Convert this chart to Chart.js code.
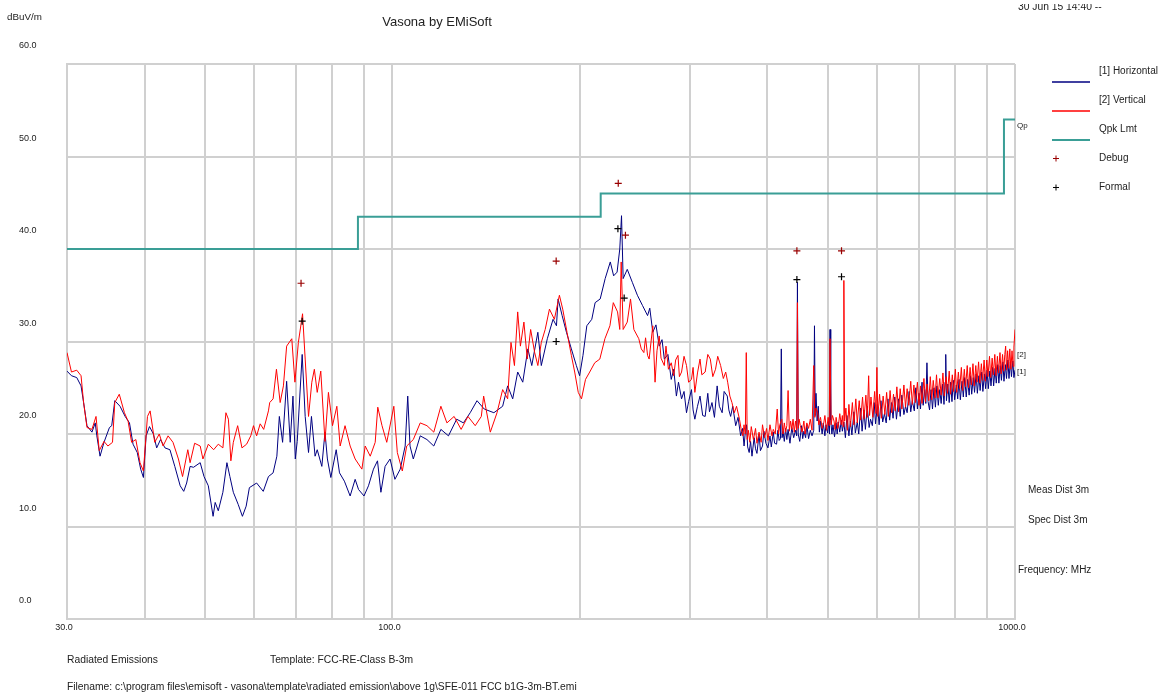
<!DOCTYPE html>
<html>
<head>
<meta charset="utf-8">
<title>Vasona by EMiSoft</title>
<script src="https://cdn.jsdelivr.net/npm/chart.js@4.4.0/dist/chart.umd.min.js"></script>
<style>
  body { margin: 0; background: #fff; }
  #wrap { width: 1162px; height: 695px; }
</style>
</head>
<body>
<div id="wrap"><canvas id="emi" width="1162" height="695"></canvas></div>
<script>
// [1] Horizontal trace (MHz / dBuV/m)
const hFreq = [30.0,30.5,31.1,31.6,31.9,32.3,32.9,33.3,33.5,33.9,34.4,35.1,35.4,35.8,36.5,37.2,37.8,38.3,38.9,39.4,39.8,40.2,40.7,41.3,41.8,42.4,43.1,43.9,44.7,45.6,46.2,46.7,47.3,47.9,49.1,49.8,50.6,51.5,51.9,52.5,53.4,54.2,54.8,55.5,56.5,57.4,58.2,58.9,60.5,62.0,63.2,64.3,65.2,65.8,66.6,67.6,68.5,69.2,69.8,70.3,71.6,72.4,73.3,74.1,75.1,75.7,77.0,77.9,78.6,79.6,81.2,82.2,83.7,85.5,87.1,88.2,90.0,91.5,93.2,94.6,95.8,97.3,99.1,100.9,102.9,104.8,105.8,106.7,108.0,110.8,113.6,116.5,119.6,123.0,126.8,130.0,133.3,136.7,140.4,145.5,150.3,153.1,156.0,158.9,161.9,165.0,167.4,171.2,173.4,177.3,181.1,183.4,184.5,187.3,190.3,193.8,197.4,199.8,202.3,205.2,209.0,211.6,215.6,219.6,223.8,226.6,229.5,231.8,233.3,234.7,238.3,242.8,247.4,
  252.1,256.9,259,261.9,265,268.2,271,273.3,277,280.4,283,285.8,288,291.3,294,296.7,299,302.2,304,306.0,309,311.9,315,317.9,321,323,326.0,329,332.3,335,338.5,341,345.0,347,349.3,352,355.9,359,362.5,365,367.1,369,370.4,372,374.1,376,378,381,383,385,388,390,393,395,398,401,404,406,409,411,414,416,418,420,421.3,422.5,424,426,428,430,432,435,438,441,444,446,447.2,448.5,451,454,456,458,461,463,466,469,472,475,476.3,477.6,479,481,483,485,487,490,492,495,497,500,502,503.5,504.5,505.8,508,510,513,516,518,520,523,526,528,531,534,537,541,544,547,551,554,558,561,565,568,572,575,579,583,586,590,594,597,601,605,609,613,617,621,625,629,633,637,641,645,650,654,658,663,667,671,676,680,684,689,693,697,
  701,705,709,712,716,719,722,725,729,733,737,741,745,749,753,757,761,765,769,772,774,776,780,784,788,792,796,800,805,809,813,817,822,826,830,835,839,844,848,852,857,861,866,870,875,879,884,888,893,897,902,906,911,915,920,924,929,933,938,942,947,951,956,960,965,969,974,978,983,987,992,996,1000];
const hLevel = [26.8,26.3,26.1,25.2,23.4,20.9,20.2,21.2,19.8,17.6,19.1,20.7,20.9,23.6,23.0,21.9,21.2,18.9,18.0,16.2,15.3,19.8,20.8,20.0,18.5,19.4,18.5,18.3,16.5,14.4,13.8,14.7,16.5,16.4,16.9,15.4,14.4,11.1,12.6,11.7,13.7,16.9,15.4,13.7,12.4,11.1,12.2,14.2,14.7,13.8,15.4,15.8,17.6,21.9,19.1,25.7,19.1,24.1,17.3,19.2,28.6,21.9,18.0,21.9,17.6,18.3,16.5,20.2,17.3,15.3,18.3,15.8,14.9,13.3,15.1,14.0,13.3,14.4,16.2,17.1,13.7,16.5,17.3,15.1,16.2,18.7,24.1,18.7,17.3,19.8,19.4,18.7,20.5,19.8,21.6,21.2,22.3,23.6,22.7,22.3,23.0,25.2,23.8,26.7,25.6,29.2,27.4,31.0,27.4,30.3,32.4,31.7,34.6,32.8,31.0,29.2,27.4,26.3,28.5,31.7,32.4,34.2,34.6,36.8,38.6,37.1,37.5,40.0,43.6,36.8,37.8,36.4,35.0,
  33.9,32.8,33.6,31.0,31.8,29.5,30.2,28.1,28.6,25.9,27.0,24.1,25.6,23.8,24.6,22.3,23.5,24.8,22.6,21.6,23.0,24.1,22.0,21.9,24.4,22.4,23.4,21.8,25.2,23.0,22.3,24.6,24.1,22.6,21.9,23.0,20.9,21.8,19.8,20.6,18.7,20.4,21.0,18.6,18.0,19.2,17.6,19.6,18.4,17.9,20.0,18.2,18.7,20.3,19.0,18.5,19.8,18.6,20.2,19.0,18.9,20.4,19.3,19.5,29.2,19.6,20.3,19.2,20.6,19.4,20.5,19.0,20.7,19.6,20.4,19.8,36.4,20.0,19.2,20.9,19.5,20.3,19.6,21.0,19.5,20.4,19.8,20.4,31.7,22.0,24.4,21.4,23.0,20.2,21.4,20.0,21.2,19.8,21.0,20.1,21.4,20.0,31.3,21.5,20.0,21.0,19.7,21.2,20.0,21.3,20.2,21.5,20.3,21.3,19.6,22.0,19.8,21.4,19.9,22.4,20.1,21.3,20.0,22.8,20.3,22.6,20.5,23.0,20.7,21.6,20.9,23.4,21.1,23.2,21.0,23.6,21.3,22.2,21.2,23.8,21.5,23.4,21.7,24.0,21.6,23.8,21.9,24.2,22.1,23.0,22.3,24.6,22.4,23.6,22.5,25.0,22.7,
  24.4,22.7,25.6,23.1,24.8,23.3,27.7,23.5,22.6,24.8,22.7,25.0,22.9,25.2,23.1,24.8,23.3,25.4,23.2,25.6,28.6,23.6,25.4,23.4,25.6,23.5,25.8,23.7,25.3,23.8,25.9,23.7,25.7,24.0,26.1,24.0,25.9,24.2,26.3,24.3,26.1,24.5,26.5,24.4,26.3,24.7,26.7,24.6,26.5,24.9,26.9,24.9,26.8,25.2,27.2,25.2,27.1,25.5,27.5,25.5,27.4,25.8,27.8,25.7,27.5,26.0,28.0,26.0,27.8,26.2,27.9,26.1,26.9];

// [2] Vertical trace (MHz / dBuV/m)
const vFreq = [30.0,30.5,31.1,31.6,31.9,32.3,32.9,33.4,33.8,34.4,34.9,35.5,35.8,36.4,37.1,37.6,38.1,38.7,39.3,39.8,40.4,40.8,41.5,42.2,42.8,43.6,44.4,45.3,46.0,46.9,47.3,48.1,49.1,49.6,50.6,51.6,52.5,53.4,54.0,54.5,55.0,55.5,56.4,57.3,58.3,59.2,59.8,60.5,61.3,62.1,63.2,63.5,64.3,65.1,66.0,66.8,67.6,68.9,69.7,70.6,71.7,72.4,73.3,74.2,74.9,75.7,76.7,77.9,78.9,80.1,81.4,82.4,83.9,85.5,87.1,89.3,90.4,92.1,93.8,94.7,96.2,97.9,100.5,101.8,103.7,105.4,108.0,110.8,113.6,116.5,119.6,122.3,125.6,128.9,132.2,135.8,138.9,140.1,143.6,147.2,150.3,153.1,155.0,157.0,158.9,160.5,162.6,164.6,166.7,169.2,171.2,173.4,175.9,178.7,182.0,185.4,187.7,190.7,193.8,196.2,198.8,201.2,204.2,207.4,211.3,215.3,219.4,223.5,226.3,229.9,231.8,233.0,234.7,238.3,241.2,244.2,
  248.7,251,253.4,255,256.9,258.4,261.9,264.1,266,268.2,270,273.3,275.0,277.5,280.4,283.0,285,287.5,289,291.3,294,296.7,299,302.2,304,306.0,309,311.9,314,317.9,321,324.0,327,330.3,333,336.6,340,343.0,345.5,348.3,351,354.1,357,360.9,363,365.5,367,368.8,370.1,371.4,373,375,377,380,383,385,388,391,393,396,399,401,404,407,409,412,415,417,419,422,424,426,428,430,432,434,436,438,440,442,444,446,447.2,448.5,450,452,455,458,460,463,466,469,472,475,477,479,482,484,487,490,493,495,498,501,503,504.5,506.5,509,512,514,516,519,521,523,526,528,529.5,531,532.5,535,538,541,544,548,551,555,558,562,565,569,572,576,579,582,584,587,591,595,598,600,602,606,610,614,618,622,626,630,634,638,642,646,650,654,658,663,667,671,675,680,684,688,692,
  697,701,705,709,714,718,722,727,731,735,739,744,748,752,757,761,766,770,775,779,784,788,793,797,802,806,811,815,820,824,829,833,838,842,847,851,856,860,865,869,874,878,883,887,892,896,901,905,910,914,919,923,928,932,937,941,946,950,955,959,963,966,969,973,977,981,985,989,993,996,1000];
const vLevel = [28.8,26.7,26.9,26.3,23.4,20.7,20.5,21.9,18.2,19.2,18.7,19.1,23.4,24.3,22.3,21.4,19.1,19.4,16.9,16.0,21.9,22.5,19.1,20.0,18.7,19.8,19.1,17.3,15.4,18.3,16.9,19.0,18.7,17.3,18.9,18.3,18.9,18.5,22.3,21.6,17.1,19.1,20.9,18.5,18.9,19.8,20.9,19.8,21.1,20.5,22.5,23.4,23.8,27.0,23.4,25.2,29.5,30.3,25.6,29.9,33.0,28.1,21.9,25.6,27.0,24.5,26.8,19.2,24.5,20.9,23.0,18.7,20.9,18.7,17.3,16.2,18.7,17.6,19.1,22.9,20.9,19.1,23.0,18.0,16.0,18.7,19.4,21.2,20.9,20.2,23.0,21.2,21.9,20.5,21.9,20.9,21.9,24.1,20.2,22.3,24.8,23.8,29.9,27.4,33.2,29.5,32.1,28.1,31.3,28.8,27.4,29.9,31.3,33.5,32.4,35.0,33.5,31.0,28.5,26.7,24.5,23.8,25.9,26.7,27.7,28.1,30.3,31.7,34.2,33.2,31.3,38.6,31.3,32.1,34.6,31.3,
  30.3,29.2,28.8,30.4,28.5,28.1,31.7,25.6,29.0,30.6,28.2,27.4,29.5,27.0,27.7,26.3,28.0,28.5,26.2,26.7,28.4,27.4,25.6,25.9,27.2,24.5,26.6,28.1,26.4,26.7,28.6,28.1,26.2,27.0,28.4,27.4,26.0,26.7,25.6,24.1,23.4,22.3,23.0,21.6,20.6,19.8,21.0,20.0,28.8,19.4,20.4,19.1,20.8,19.4,20.6,19.0,20.2,19.1,21.0,19.6,20.6,19.3,21.0,19.8,20.5,20.0,22.7,20.0,21.0,21.6,20.0,21.2,20.2,20.9,24.7,20.3,21.4,20.5,21.6,20.2,21.4,20.4,34.2,20.6,21.6,20.9,20.2,21.4,20.0,21.2,20.6,21.6,20.4,27.4,21.8,22.8,22.3,21.0,21.8,20.6,21.2,22.0,20.4,21.8,20.9,30.3,21.0,22.0,21.4,20.5,21.8,20.6,21.2,22.2,21.0,22.0,20.8,36.6,21.4,22.8,20.4,23.2,20.8,23.4,21.0,23.8,21.2,23.6,21.5,24.0,21.6,24.2,21.8,26.3,22.0,24.0,21.8,24.6,22.2,27.2,21.9,24.3,21.7,24.1,22.1,24.5,21.9,24.7,22.3,24.3,22.5,25.1,22.4,24.9,22.7,25.3,22.9,24.9,23.1,25.7,23.2,25.3,23.4,
  25.6,23.1,25.2,23.3,26.0,23.5,25.4,23.6,26.2,23.7,25.8,23.9,26.4,23.9,26.0,24.2,26.6,24.1,26.2,24.4,26.8,24.3,26.4,24.6,27.0,24.5,26.7,24.9,27.2,24.7,27.0,25.1,27.4,25.0,27.2,25.3,27.6,25.2,27.4,25.6,27.8,25.5,27.6,25.8,28.0,25.7,28.0,26.2,28.4,26.1,28.2,26.4,28.6,26.3,28.4,26.6,28.8,26.5,28.6,26.8,28.6,29.5,26.9,29.0,27.1,29.2,27.0,29.0,27.3,29.4,31.3];

// Qpk limit (FCC Class B, 3 m)
const limitFreq = [30, 88, 88, 216, 216, 960, 960, 1000];
const limitLevel = [40.0, 40.0, 43.5, 43.5, 46.0, 46.0, 54.0, 54.0];

// Marker readings
const debugFreq = [71.3, 183.2, 230.5, 236.7, 446.3, 526.4];
const debugLevel = [36.3, 38.7, 47.1, 41.5, 39.8, 39.8];
const formalFreq = [71.6, 183.2, 230.2, 235.6, 446.3, 526.4];
const formalLevel = [32.2, 30.0, 42.2, 34.7, 36.7, 37.0];

// axis ticks
const xGridTicks = [30, 40, 50, 60, 70, 80, 90, 100, 200, 300, 400, 500, 600, 700, 800, 900, 1000];
const xLabelTicks = [30, 100, 1000];

const toPoints = (xs, ys) => xs.map((x, i) => ({ x: x, y: ys[i] }));

const FONT = '"Liberation Sans", Arial, sans-serif';
const BLUE = '#000080';
const RED = '#ff0000';
const TEAL = '#3a9e96';

const textPlugin = {
    id: 'emiText',
    afterDraw(chart) {
        const ctx = chart.ctx;
        ctx.save();
        ctx.fillStyle = '#222';
        ctx.textBaseline = 'middle';

        ctx.font = '13px ' + FONT;
        ctx.textAlign = 'center';
        ctx.fillText('Vasona by EMiSoft', 437, 22);

        // date line, top half falls off the page
        ctx.textAlign = 'left';
        ctx.font = '10.3px ' + FONT;
        ctx.fillText('30 Jun 15 14:40 --', 1018, 7);
        ctx.fillStyle = '#fff';
        ctx.fillRect(1010, 0, 152, 4);
        ctx.fillStyle = '#222';

        ctx.font = '9.8px ' + FONT;
        ctx.fillText('dBuV/m', 7, 17);

        // legend
        const legend = [
            ['[1] Horizontal', 71, 'line', BLUE, 1.5],
            ['[2] Vertical', 100, 'line', RED, 1.5],
            ['Qpk Lmt', 129, 'line', TEAL, 2],
            ['Debug', 158, 'cross', '#990000'],
            ['Formal', 187, 'cross', '#000000']
        ];
        legend.forEach(([label, y, kind, color, w]) => {
            ctx.fillStyle = '#222';
            ctx.font = '10px ' + FONT;
            ctx.fillText(label, 1099, y);
            ctx.strokeStyle = color;
            if (kind === 'line') {
                ctx.lineWidth = w;
                ctx.beginPath();
                ctx.moveTo(1052, y + 11);
                ctx.lineTo(1090, y + 11);
                ctx.stroke();
            } else {
                ctx.lineWidth = 1;
                ctx.beginPath();
                ctx.moveTo(1053, y + 0.5);
                ctx.lineTo(1059, y + 0.5);
                ctx.moveTo(1056, y - 2.5);
                ctx.lineTo(1056, y + 3.5);
                ctx.stroke();
            }
        });

        ctx.fillStyle = '#222';
        ctx.font = '8px ' + FONT;
        ctx.fillText('Qp', 1017, 126);
        ctx.fillText('[2]', 1017, 355);
        ctx.fillText('[1]', 1017, 372);

        ctx.font = '10px ' + FONT;
        ctx.fillText('Meas Dist 3m', 1028, 490);
        ctx.fillText('Spec Dist 3m', 1028, 520);
        ctx.fillText('Frequency: MHz', 1018, 570);

        ctx.font = '10.3px ' + FONT;
        ctx.fillText('Radiated Emissions', 67, 660);
        ctx.fillText('Template: FCC-RE-Class B-3m', 270, 660);
        ctx.fillText('Filename: c:\\program files\\emisoft - vasona\\template\\radiated emission\\above 1g\\SFE-011 FCC b1G-3m-BT.emi', 67, 687);
        ctx.restore();
    }
};

new Chart(document.getElementById('emi'), {
    type: 'scatter',
    data: {
        datasets: [
            {
                label: 'Debug',
                data: toPoints(debugFreq, debugLevel),
                pointStyle: 'cross',
                pointRadius: 3.5,
                borderColor: '#990000',
                borderWidth: 1.2,
                order: 0
            },
            {
                label: 'Formal',
                data: toPoints(formalFreq, formalLevel),
                pointStyle: 'cross',
                pointRadius: 3.5,
                borderColor: '#000000',
                borderWidth: 1.2,
                order: 0
            },
            {
                label: 'Qpk Lmt',
                data: toPoints(limitFreq, limitLevel),
                showLine: true,
                borderColor: TEAL,
                borderWidth: 2,
                pointRadius: 0,
                tension: 0,
                order: 1
            },
            {
                label: '[2] Vertical',
                data: toPoints(vFreq, vLevel),
                showLine: true,
                borderColor: RED,
                borderWidth: 1,
                pointRadius: 0,
                tension: 0,
                order: 2
            },
            {
                label: '[1] Horizontal',
                data: toPoints(hFreq, hLevel),
                showLine: true,
                borderColor: BLUE,
                borderWidth: 1,
                pointRadius: 0,
                tension: 0,
                order: 3
            }
        ]
    },
    options: {
        responsive: false,
        animation: false,
        layout: { padding: { left: 19, right: 147, top: 64, bottom: 56 } },
        plugins: {
            legend: { display: false },
            tooltip: { enabled: false }
        },
        scales: {
            x: {
                type: 'logarithmic',
                min: 30,
                max: 1000,
                afterBuildTicks: (scale) => {
                    scale.ticks = xGridTicks.map(v => ({ value: v }));
                },
                afterFit: (scale) => { scale.height = 20; },
                grid: { color: '#d0d0d0', lineWidth: 2, drawTicks: false },
                border: { color: '#d0d0d0', width: 2 },
                ticks: {
                    autoSkip: false,
                    maxRotation: 0,
                    padding: 3,
                    labelOffset: -3,
                    color: '#222',
                    font: { family: FONT, size: 9 },
                    callback: (v) => xLabelTicks.includes(v) ? v.toFixed(1) : ''
                }
            },
            y: {
                min: 0,
                max: 60,
                afterFit: (scale) => { scale.width = 48; },
                grid: { color: '#d0d0d0', lineWidth: 2, drawTicks: false },
                border: { color: '#d0d0d0', width: 2 },
                ticks: {
                    stepSize: 10,
                    crossAlign: 'far',
                    labelOffset: -18,
                    color: '#222',
                    font: { family: FONT, size: 9 },
                    callback: (v) => v.toFixed(1)
                }
            }
        }
    },
    plugins: [textPlugin]
});
</script>
</body>
</html>
